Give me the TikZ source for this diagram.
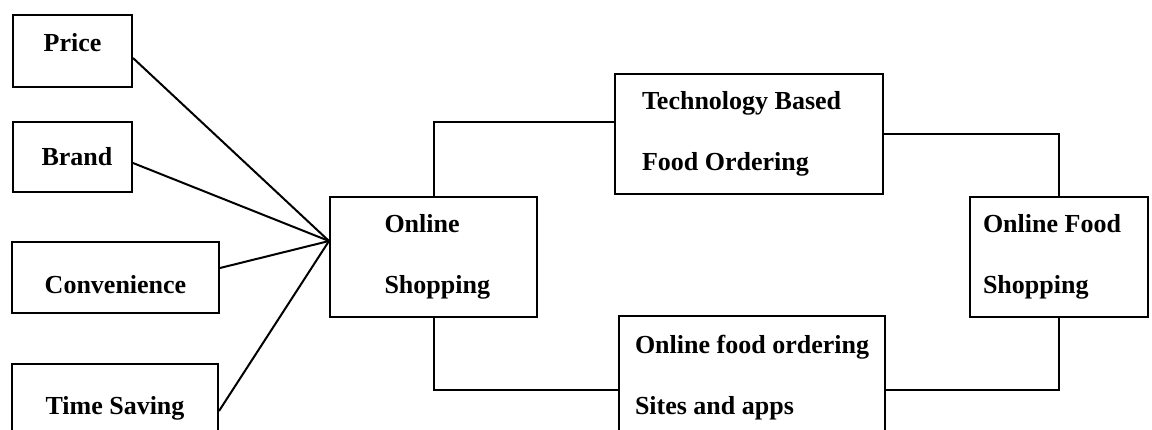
\documentclass[tikz,border=0pt]{standalone}
\usepackage{fontspec}
\setmainfont{Liberation Serif}

\tikzset{
  box/.style={draw, line width=1pt, align=flush left, inner sep=0pt,
    font=\bfseries\fontsize{13}{30.5}\selectfont},
  link/.style={line width=1pt}
}

\begin{document}
\begin{tikzpicture}[x=0.5pt, y=-0.5pt]
    \useasboundingbox (0,0) rectangle (1152,429);
    % factors
    \node[box, minimum width=59.5pt, minimum height=36pt, text depth=9pt] (price) at (72.5,51) {Price};
    \node[box, minimum width=59.5pt, minimum height=35pt, text width=31pt] (brand) at (72.5,157) {Brand};
    \node[box, minimum width=103.5pt, minimum height=35.5pt, text height=16.5pt] (conv) at (115.5,277.5) {Convenience};
    \node[box, minimum width=103pt, minimum height=44pt] (time) at (115,408) {Time Saving};
    % middle and right
    \node[box, minimum width=103.5pt, minimum height=60pt, text width=49pt] (shop) at (433.5,257) {Online\\Shopping};
    \node[box, minimum width=134pt, minimum height=60pt, text width=107pt] (tech) at (749,134) {Technology Based\\Food Ordering};
    \node[box, minimum width=133pt, minimum height=61.5pt] (apps) at (752,377.5) {Online food ordering\\Sites and apps};
    \node[box, minimum width=89pt, minimum height=60pt, text width=76pt] (ofs) at (1059,257) {Online Food\\Shopping};
    \coordinate (hub) at ([yshift=8pt]shop.west);
    \draw[link] ([yshift=-3.5pt]price.east) -- (hub);
    \draw[link] ([yshift=-3pt]brand.east) -- (hub);
    \draw[link] ([yshift=4.75pt]conv.east) -- (hub);
    \draw[link] ([yshift=-1.5pt]time.east) -- (hub);
    \draw[link] (shop.north) |- ([yshift=6pt]tech.west);
    \draw[link] (shop.south) |- ([yshift=-6pt]apps.west);
    \draw[link] (tech.east) -| (ofs.north);
    \draw[link] ([yshift=-6pt]apps.east) -| (ofs.south);
\end{tikzpicture}
\end{document}
